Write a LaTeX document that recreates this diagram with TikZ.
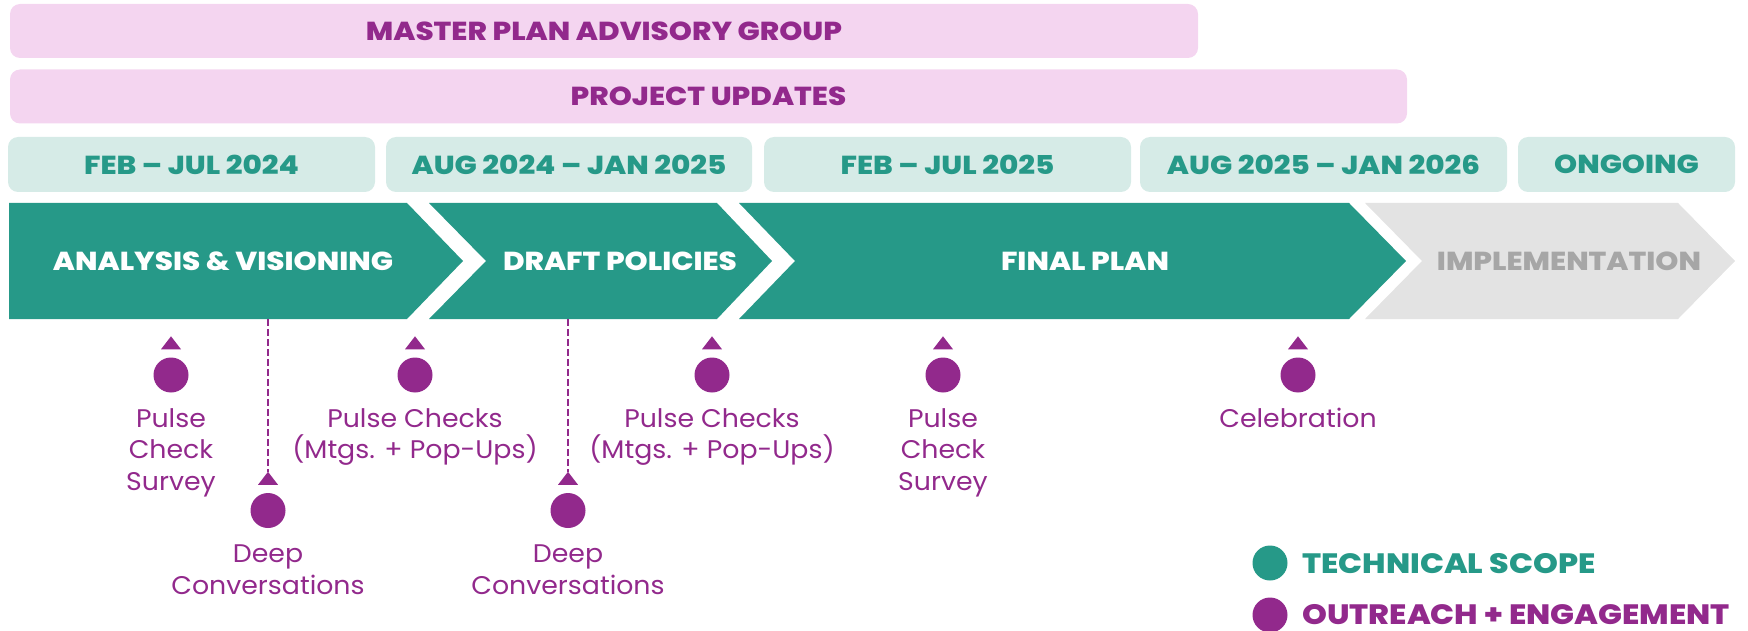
\documentclass[tikz,border=0pt]{standalone}
\usepackage{fontspec}
\setmainfont{Poppins}[FakeStretch=1.05]
\newfontfamily\heavyfont{Poppins}[UprightFont={* ExtraBold}, FakeStretch=1.13]
\usepackage{tikz}
\usepackage{xcolor}
\definecolor{tealdark}{RGB}{38,153,136}
\definecolor{tealpale}{RGB}{214,235,231}
\definecolor{pinkpale}{RGB}{244,213,240}
\definecolor{plum}{RGB}{146,41,140}
\definecolor{greypale}{RGB}{227,227,227}
\definecolor{greytext}{RGB}{166,166,166}

\tikzset{
  heavy/.style={font=\heavyfont\fontsize{26}{30}\selectfont, inner sep=0pt},
  bar/.style={heavy, fill=pinkpale, text=plum, rounded corners=10pt, minimum height=54pt},
  period/.style={heavy, fill=tealpale, text=tealdark, rounded corners=10pt, minimum height=55pt},
  keytext/.style={heavy, font=\heavyfont\fontsize{28}{30}\selectfont, anchor=west},
  note/.style={font=\fontsize{25.5}{31.7}\selectfont, text=plum, align=center, anchor=north, inner sep=0pt},
  dot/.style={circle, fill=plum, minimum size=35pt, inner sep=0pt},
}

\begin{document}
\begin{tikzpicture}[x=1pt,y=-1pt]
                % Canvas
                \useasboundingbox (0,0) rectangle (1748,631);

                % Top bars
                \node[bar, minimum width=1188pt] (advisory) at (604,31) {MASTER PLAN ADVISORY GROUP};
                \node[bar, minimum width=1397pt] (updates) at (708.5,96.5) {PROJECT UPDATES};

                % Periods
                \node[period, minimum width=367pt] (perA) at (191.5,164.5) {FEB – JUL 2024};
                \node[period, minimum width=366pt] (perB) at (569,164.5) {AUG 2024 – JAN 2025};
                \node[period, minimum width=367pt] (perC) at (947.5,164.5) {FEB – JUL 2025};
                \node[period, minimum width=367pt] (perD) at (1323.5,164.5) {AUG 2025 – JAN 2026};
                \node[period, minimum width=217pt] (perE) at (1626.5,164.5) {ONGOING};

                % Phases
                \fill[tealdark] (9,203) -- (407,203) -- (463,261) -- (407,319) -- (9,319) -- cycle;
                \node[heavy, text=white] (analysis) at (223,261) {ANALYSIS \& VISIONING};
                \fill[tealdark] (429,203) -- (717,203) -- (772,261) -- (717,319) -- (429,319) -- (486,261) -- cycle;
                \node[heavy, text=white] (draft) at (620,261) {DRAFT POLICIES};
                \fill[tealdark] (739,203) -- (1349,203) -- (1406,261) -- (1349,319) -- (739,319) -- (795,261) -- cycle;
                \node[heavy, text=white] (final) at (1085,261) {FINAL PLAN};
                \fill[greypale] (1365,203) -- (1678,203) -- (1735,261) -- (1678,319) -- (1365,319) -- (1422,261) -- cycle;
                \node[heavy, text=greytext] (implement) at (1569,261) {IMPLEMENTATION};

                % Outreach events
                \foreach \x/\y/\name in {171/375/surveyA, 415/375/checksA, 712/375/checksB,
                                         943/375/surveyB, 1298/375/party, 268/510.5/deepA, 568/510.5/deepB} {
                    \node[dot] (\name) at (\x,\y) {};
                    \fill[plum] (\name.north) ++(-10,-8) -- ++(20,0) -- ++(-10,-13) -- cycle;
                    \coordinate (\name-tip) at ([yshift=21pt]\name.north);
                }
                \node[note] (surveyA-text) at (171,408) {Pulse\\Check\\Survey};
                \node[note] (checksA-text) at (415,408) {Pulse Checks\\(Mtgs. + Pop-Ups)};
                \node[note] (checksB-text) at (712,408) {Pulse Checks\\(Mtgs. + Pop-Ups)};
                \node[note] (surveyB-text) at (943,408) {Pulse\\Check\\Survey};
                \node[note] (party-text) at (1298,408) {Celebration};
                \node[note] (deepA-text) at (268,545) {Deep\\Conversations};
                \node[note] (deepB-text) at (568,545) {Deep\\Conversations};

                % Dashed leaders
                \coordinate (cutA) at (268,319);
                \coordinate (cutB) at (568,319);
                \draw[plum, line width=2.3pt, dash pattern=on 6.5pt off 3.5pt] (cutA) -- (deepA-tip);
                \draw[plum, line width=2.3pt, dash pattern=on 6.5pt off 3.5pt] (cutB) -- (deepB-tip);

                % Legend
                \node[dot, fill=tealdark] (keyTech) at (1270,563) {};
                \node[keytext, text=tealdark] (keyTech-text) at (1302,563.5) {TECHNICAL SCOPE};
                \node[dot] (keyOut) at (1270,615) {};
                \node[keytext, text=plum] (keyOut-text) at (1302,615) {OUTREACH + ENGAGEMENT};
            \end{tikzpicture}
\end{document}
